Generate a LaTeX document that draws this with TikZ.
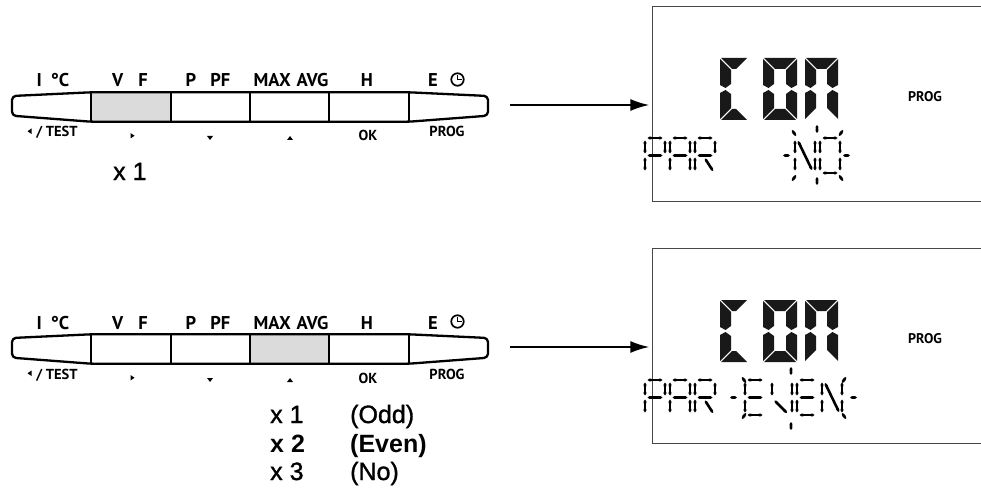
\documentclass[tikz,border=0pt]{standalone}
\usepackage{fontspec}
\setmainfont{Liberation Sans}
\newfontfamily\keyfont{PT Sans}
\newfontfamily\medfont[FakeBold=1.2]{Liberation Sans}
\usetikzlibrary{arrows.meta,calc}

\tikzset{
 keyline/.style={line width=2.3pt, line join=round},
 keyshade/.style={fill=black!14},
 toplab/.style={font=\keyfont\bfseries\fontsize{18.5}{18.5}\selectfont, inner sep=0, anchor=base},
 botlab/.style={font=\keyfont\bfseries\fontsize{14.5}{14.5}\selectfont, inner sep=0, anchor=base},
 lcdlab/.style={font=\keyfont\bfseries\fontsize{14}{14}\selectfont, inner sep=0},
 flow/.style={line width=2pt, -{Latex[length=19pt,width=12pt]}, shorten <=22pt, shorten >=2.7pt},
 lcdbox/.style={draw=black!72, line width=1.3pt, inner sep=0, minimum width=376.3pt, minimum height=195pt},
 bseg/.style={fill=black!90},
 ts/.style={line width=2.6pt, {Triangle Cap[length=1.8pt]}-{Triangle Cap[length=1.8pt]}},
 cnt/.style={font=\medfont\fontsize{25}{25}\selectfont, inner sep=0, anchor=base west},
 cntb/.style={font=\fontsize{25}{25}\selectfont\bfseries, inner sep=0, anchor=base west},
}

% big LCD segments, relative to digit origin, width #1
\newcommand\BA[1]{\fill[bseg] (1,0) -- ({#1-1},0) -- ({#1-12},11) -- (12,11) -- cycle;}
\newcommand\BD[1]{\fill[bseg] (1,62) -- ({#1-1},62) -- ({#1-12},51) -- (12,51) -- cycle;}
\newcommand\BF[1]{\fill[bseg] (0,1) -- (11,12) -- (11,26) -- (5.5,30) -- (0,27) -- cycle;}
\newcommand\BE[1]{\fill[bseg] (0,35) -- (5.5,32) -- (11,36) -- (11,50) -- (0,61) -- cycle;}
\newcommand\BB[1]{\fill[bseg] ({#1},1) -- ({#1-11},12) -- ({#1-11},26) -- ({#1-5.5},30) -- ({#1},27) -- cycle;}
\newcommand\BC[1]{\fill[bseg] ({#1},35) -- ({#1-5.5},32) -- ({#1-11},36) -- ({#1-11},50) -- ({#1},61) -- cycle;}
\newcommand\bigch[3]{\begin{scope}[shift={(#1,#2)}]#3\end{scope}}

% thin LCD segments, char 20 x 35
\newcommand\SgA{\draw[ts] (2.5,0) -- (17.5,0);}
\newcommand\SgB{\draw[ts] (20,2.5) -- (20,15.5);}
\newcommand\SgC{\draw[ts] (20,19.5) -- (20,32.5);}
\newcommand\SgD{\draw[ts] (2.5,35) -- (17.5,35);}
\newcommand\SgE{\draw[ts] (0,19.5) -- (0,32.5);}
\newcommand\SgF{\draw[ts] (0,2.5) -- (0,15.5);}
\newcommand\SgG{\draw[ts] (2.5,17.5) -- (17.5,17.5);}
\newcommand\SgN{\draw[ts] (3,3) -- (17,32);}
\newcommand\SgR{\draw[ts] (10,20.5) -- (18,33);}
\newcommand\SgV{\draw[ts] (2.5,20.5) -- (15,33);}
\newcommand\thch[3]{\begin{scope}[shift={(#1,#2)}]#3\end{scope}}

\newcommand\keypad[4]{%
\begin{scope}[shift={(0,#1)}]
 \fill[keyshade] (#2,92.3) rectangle (#3,121.7);
 \draw[keyline, rounded corners=4pt] (12,96) -- (91,92.3) -- (409,92.3) -- (488,96) -- (488,115.7) -- (409,121.7) -- (91,121.7) -- (12,115.7) -- cycle;
 \foreach \x in {91,171,250,329,409} \draw[keyline] (\x,92.3) -- (\x,121.7);
 \node[inner sep=0, minimum width=476pt, minimum height=25.4pt] (pad#4) at (250,105) {};
 \node[toplab] (kI#4) at (53,87) {I\hspace{9pt}°C};
 \node[toplab] (kV#4) at (130,87) {V\hspace{15pt}F};
 \node[toplab] (kP#4) at (208,87) {P\hspace{14pt}PF};
 \node[toplab] (kM#4) at (291,87) {MAX\hspace{6pt}AVG};
 \node[toplab] (kH#4) at (367,87) {H};
 \node[toplab] (kE#4) at (433,87) {E};
 \node[circle, draw, line width=1.7pt, minimum size=12.5pt, inner sep=0] (clk#4) at (457.5,79.5) {};
 \draw[line width=1.5pt] (clk#4.center) ++(0,-4.5) -- (clk#4.center) -- ++(4,0);
 \fill (31.5,128.5) -- (31.5,134) -- (27.5,131.25) -- cycle;
 \node[botlab] (kT#4) at (57,137) {/ TEST};
 \fill (130.5,133) -- (130.5,138.5) -- (134.5,135.75) -- cycle;
 \fill (207,136) -- (213,136) -- (210,140) -- cycle;
 \fill (287,140) -- (293,140) -- (290,136) -- cycle;
 \node[botlab] (kO#4) at (368,141) {OK};
 \node[botlab] (kG#4) at (447,137) {PROG};
\end{scope}}

\newcommand\lcdpanel[2]{%
\begin{scope}[shift={(0,#1)}]
 \node[lcdbox] (lcd#2) at (840.85,104.2) {};
 \node[lcdlab] (prog#2) at (925,97) {PROG};
 \bigch{720}{58}{\BA{28}\BD{28}\BE{28}\BF{28}}
 \bigch{763}{58}{\BA{34}\BB{34}\BC{34}\BD{34}\BE{34}\BF{34}}
 \bigch{805}{58}{\BA{33}\BB{33}\BC{33}\BE{33}\BF{33}}
 \thch{645}{138}{\SgA\SgB\SgE\SgF\SgG}
 \thch{670}{138}{\SgA\SgB\SgC\SgE\SgF\SgG}
 \thch{695}{138}{\SgA\SgB\SgE\SgF\SgG\SgR}
\end{scope}}

\begin{document}
\begin{tikzpicture}[x=1pt,y=-1pt]
\useasboundingbox (0,0) rectangle (981,497);

% ---------- top row ----------
\keypad{0}{91}{171}{A}
\node[cnt] (xA) at (113,180) {x 1};
\lcdpanel{0}{A}
% -NO- with blink marks
\draw[ts] (783,155.5) -- (790,155.5);
\thch{795}{138}{\SgB\SgC\SgE\SgF\SgN}
\thch{820}{138}{\SgA\SgB\SgC\SgD\SgE\SgF}
\draw[ts] (843,155.5) -- (850,155.5);
\draw[ts] (817,125) -- (817,133);
\draw[ts] (817,177) -- (817,185);
\draw[ts] (792,130) -- (796,136);
\draw[ts] (843,130) -- (839,136);
\draw[ts] (792,181) -- (796,175);
\draw[ts] (843,181) -- (839,175);
\draw[flow] (padA.east) -- (padA.east -| lcdA.west);

% ---------- bottom row ----------
\keypad{242}{250}{329}{B}
\node[cnt] (x1B) at (270,423) {x 1};
\node[cnt] (oddB) at (350,423) {(Odd)};
\node[cntb] (x2B) at (270,452) {x 2};
\node[cntb] (evenB) at (350,452) {(Even)};
\node[cnt] (x3B) at (270,480) {x 3};
\node[cnt] (noB) at (350,480) {(No)};
\lcdpanel{242}{B}
% -EVEN- with blink marks
\draw[ts] (730,397.5) -- (737,397.5);
\thch{745}{380}{\SgA\SgD\SgE\SgF\SgG}
\thch{772}{380}{\SgB\SgC\SgF\SgV}
\thch{797}{380}{\SgA\SgD\SgE\SgF\SgG}
\thch{822}{380}{\SgB\SgC\SgE\SgF\SgN}
\draw[ts] (850,397.5) -- (857,397.5);
\draw[ts] (791,367) -- (791,375);
\draw[ts] (791,422) -- (791,430);
\draw[ts] (742,377) -- (746,383);
\draw[ts] (742,419) -- (746,413);
\draw[ts] (846,377) -- (842,383);
\draw[ts] (846,419) -- (842,413);
\draw[flow] (padB.east) -- (padB.east -| lcdB.west);
\end{tikzpicture}
\end{document}
